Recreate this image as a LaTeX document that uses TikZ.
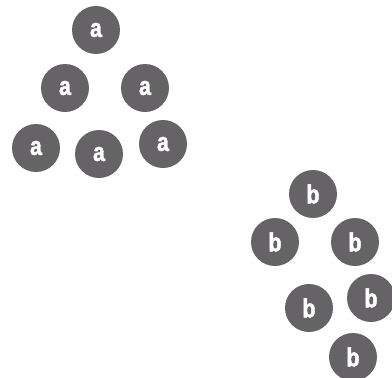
\documentclass[tikz,border=0pt]{standalone}
\usepackage{fontspec}
\newfontfamily\ballfont[FakeStretch=0.82,FakeBold=1.8]{Liberation Sans Bold}
\definecolor{ballgray}{HTML}{656366}
\begin{document}
\begin{tikzpicture}[x=1pt,y=-1pt,
    ball/.style={circle, fill=ballgray, minimum size=48pt, inner sep=0pt,
                 text=white, font=\ballfont\fontsize{26}{26}\selectfont}]
                \useasboundingbox (0,0) rectangle (392,378);
                \node[ball] (A1) at (96,30) {a};
                \node[ball] (A2) at (65,88) {a};
                \node[ball] (A3) at (145,88) {a};
                \node[ball] (A4) at (36,148) {a};
                \node[ball] (A5) at (99,154) {a};
                \node[ball] (A6) at (163,144) {a};

                \node[ball] (B1) at (313,194) {b};
                \node[ball] (B2) at (275,242) {b};
                \node[ball] (B3) at (355,242) {b};
                \node[ball] (B4) at (309,308) {b};
                \node[ball] (B5) at (371,298) {b};
                \node[ball] (B6) at (353,357) {b};
            \end{tikzpicture}
\end{document}
